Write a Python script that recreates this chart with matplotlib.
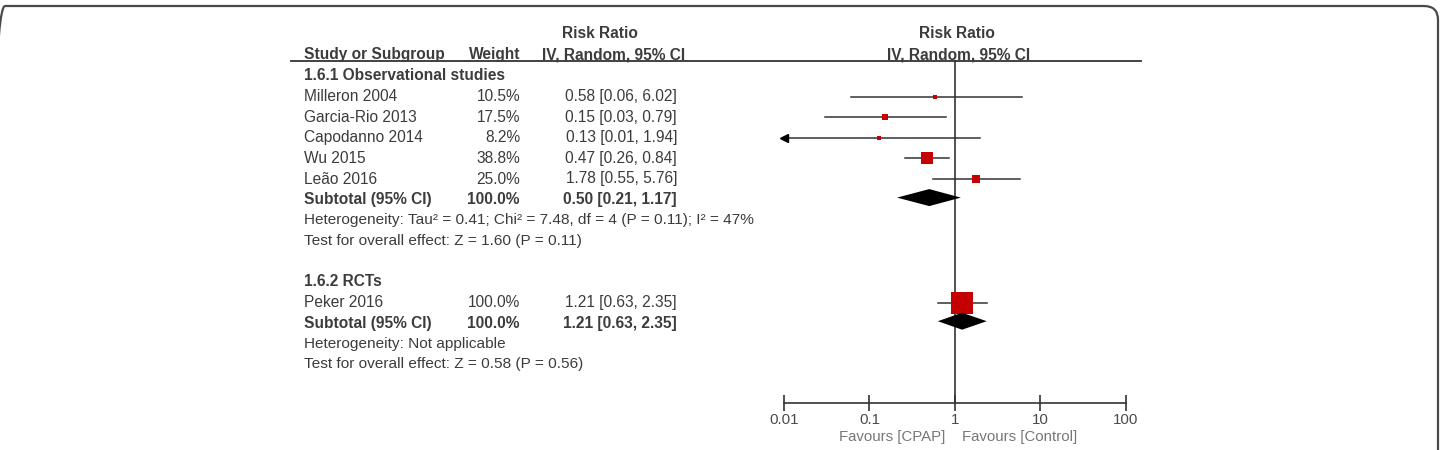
import numpy as np
import matplotlib
matplotlib.use('Agg')
import matplotlib.pyplot as plt
from matplotlib.patches import FancyBboxPatch

# Subgroup 1.6.1 - observational studies
obs_names = ["Milleron 2004", "Garcia-Rio 2013", "Capodanno 2014", "Wu 2015", "Leão 2016"]
obs_weight = [10.5, 17.5, 8.2, 38.8, 25.0]
obs_rr = [0.58, 0.15, 0.13, 0.47, 1.78]
obs_lo = [0.06, 0.03, 0.01, 0.26, 0.55]
obs_hi = [6.02, 0.79, 1.94, 0.84, 5.76]
obs_total = [0.50, 0.21, 1.17]
obs_het = "Heterogeneity: Tau² = 0.41; Chi² = 7.48, df = 4 (P = 0.11); I² = 47%"
obs_test = "Test for overall effect: Z = 1.60 (P = 0.11)"

# Subgroup 1.6.2 - RCTs
rct_names = ["Peker 2016"]
rct_weight = [100.0]
rct_rr = [1.21]
rct_lo = [0.63]
rct_hi = [2.35]
rct_total = [1.21, 0.63, 2.35]
rct_het = "Heterogeneity: Not applicable"
rct_test = "Test for overall effect: Z = 0.58 (P = 0.56)"

tick_vals = [0.01, 0.1, 1, 10, 100]
tick_labels = ["0.01", "0.1", "1", "10", "100"]

plt.rcParams['font.family'] = ['Liberation Sans', 'DejaVu Sans']

W, H = 1440, 450
fig = plt.figure(figsize=(W / 100, H / 100), dpi=100)

# text layer in pixel coords
ax = fig.add_axes([0, 0, 1, 1])
ax.set_xlim(0, W)
ax.set_ylim(H, 0)
ax.axis('off')

# forest layer: log x from 0.01 to 100, same pixel y
X0, X1 = 784, 1126
fx = fig.add_axes([X0 / W, 0, (X1 - X0) / W, 1])
fx.set_xscale('log')
fx.set_xlim(0.01, 100)
fx.set_ylim(H, 0)
fx.patch.set_alpha(0)
for s in ['top', 'left', 'right']:
    fx.spines[s].set_visible(False)
fx.set_yticks([])

Y0, DY = 76, 20.6
row = lambda i: Y0 + i * DY
FS = 11.2
FS2 = 11.1
TXT = '#3c3c3c'
RED = '#c40000'
X_NAME, X_W, X_CI = 304, 520, 677
LINE_Y, AXIS_Y = 61, 403

# rounded frame (left and bottom edges run off the picture)
frame = FancyBboxPatch((-9, 6), 1447, 480, boxstyle="round,pad=0,rounding_size=14",
                       transform=ax.transData, fill=False, ec='#4a4a4a', lw=1.6, clip_on=False)
ax.add_patch(frame)

# headers
ax.text(600, 34, "Risk Ratio", ha='center', va='center', fontsize=FS, fontweight='bold', color=TXT)
ax.text(X_NAME, 59, "Study or Subgroup", ha='left', va='baseline', fontsize=FS, fontweight='bold', color=TXT)
ax.text(X_W, 59, "Weight", ha='right', va='baseline', fontsize=FS, fontweight='bold', color=TXT)
ax.text(542, 59, "IV, Random, 95% CI", ha='left', va='baseline', fontsize=FS, fontweight='bold', color=TXT)
ax.text(957, 34, "Risk Ratio", ha='center', va='center', fontsize=FS, fontweight='bold', color=TXT)
ax.text(959, 59, "IV, Random, 95% CI", ha='center', va='baseline', fontsize=FS, fontweight='bold', color=TXT)
ax.plot([291, 1141], [LINE_Y, LINE_Y], color='#333333', lw=1.3)


def ci_text(r, l, h):
    return f"{r:.2f} [{l:.2f}, {h:.2f}]"


def study_row(i, name, w, r, l, h):
    y = row(i)
    ax.text(X_NAME, y, name, ha='left', va='center', fontsize=FS, color=TXT)
    ax.text(X_W, y, f"{w:.1f}%", ha='right', va='center', fontsize=FS, color=TXT)
    ax.text(X_CI, y, ci_text(r, l, h), ha='right', va='center', fontsize=FS, color=TXT)
    left = max(l, 0.01)
    fx.plot([left, h], [y, y], color='#333333', lw=1.1, zorder=2)
    if l <= 0.01:
        fx.plot([0.01], [y], marker='<', color='black', ms=6, clip_on=False, zorder=3)
    side = 23 * (w / 100) ** 0.75
    fx.plot([r], [y], marker='s', color=RED, ms=side * 0.72, mew=0, zorder=3)


def total_row(i, total, w):
    y = row(i)
    r, l, h = total
    ax.text(X_NAME, y, "Subtotal (95% CI)", ha='left', va='center', fontsize=FS, fontweight='bold', color=TXT)
    ax.text(X_W, y, f"{w:.1f}%", ha='right', va='center', fontsize=FS, fontweight='bold', color=TXT)
    ax.text(X_CI, y, ci_text(r, l, h), ha='right', va='center', fontsize=FS, fontweight='bold', color=TXT)
    hh = 8.5
    fx.fill([l, r, h, r], [y - 2, y - 2 - hh, y - 2, y - 2 + hh], color='black', zorder=4, lw=0)


# subgroup 1
ax.text(X_NAME, row(0), "1.6.1 Observational studies", ha='left', va='center', fontsize=FS, fontweight='bold', color=TXT)
for k in range(len(obs_names)):
    study_row(1 + k, obs_names[k], obs_weight[k], obs_rr[k], obs_lo[k], obs_hi[k])
total_row(6, obs_total, sum(obs_weight))
ax.text(X_NAME, row(7), obs_het, ha='left', va='center', fontsize=FS2, color=TXT)
ax.text(X_NAME, row(8), obs_test, ha='left', va='center', fontsize=FS2, color=TXT)

# subgroup 2
ax.text(X_NAME, row(10), "1.6.2 RCTs", ha='left', va='center', fontsize=FS, fontweight='bold', color=TXT)
for k in range(len(rct_names)):
    study_row(11 + k, rct_names[k], rct_weight[k], rct_rr[k], rct_lo[k], rct_hi[k])
total_row(12, rct_total, sum(rct_weight))
ax.text(X_NAME, row(13), rct_het, ha='left', va='center', fontsize=FS2, color=TXT)
ax.text(X_NAME, row(14), rct_test, ha='left', va='center', fontsize=FS2, color=TXT)

# line of no effect and x axis
fx.plot([1, 1], [LINE_Y, AXIS_Y], color='#333333', lw=1.2, zorder=1)
fx.spines['bottom'].set_position(('data', AXIS_Y))
fx.spines['bottom'].set_color('#333333')
fx.spines['bottom'].set_linewidth(1.2)
fx.set_xticks(tick_vals)
fx.set_xticklabels(tick_labels)
fx.xaxis.set_minor_locator(matplotlib.ticker.NullLocator())
fx.tick_params(axis='x', direction='inout', length=12, width=1.2, color='#333333',
               labelsize=10.8, labelcolor='#4a4a4a', pad=1)

ax.text(945, 437, "Favours [CPAP]", ha='right', va='center', fontsize=10.8, color='#777777')
ax.text(962, 437, "Favours [Control]", ha='left', va='center', fontsize=10.8, color='#777777')

plt.savefig('out.png', dpi=100)
plt.close()
